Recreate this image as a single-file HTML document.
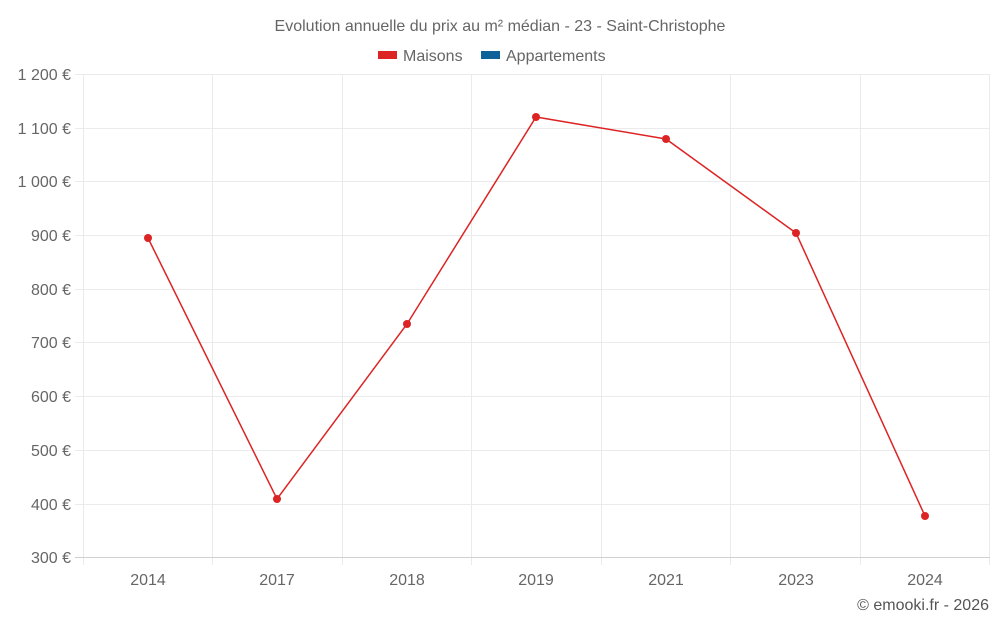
<!DOCTYPE html>
<html><head><meta charset="utf-8"><style>
body{margin:0;background:#fff;}
svg{display:block;font-family:"Liberation Sans",sans-serif;}
</style></head><body>
<svg width="1000" height="625" viewBox="0 0 1000 625">
<text x="500" y="31" text-anchor="middle" font-size="16" fill="#666">Evolution annuelle du prix au m² médian - 23 - Saint-Christophe</text>
<rect x="378" y="51" width="19" height="8" fill="#dc2424"/>
<text x="403" y="61" font-size="16" fill="#666">Maisons</text>
<rect x="481" y="51" width="19" height="8" fill="#0e6199"/>
<text x="506" y="61" font-size="16" fill="#666">Appartements</text>
<g stroke="#ebebeb" stroke-width="1">
<line x1="75" x2="990" y1="74.5" y2="74.5"/><line x1="75" x2="990" y1="128.5" y2="128.5"/>
<line x1="75" x2="990" y1="181.5" y2="181.5"/><line x1="75" x2="990" y1="235.5" y2="235.5"/>
<line x1="75" x2="990" y1="289.5" y2="289.5"/><line x1="75" x2="990" y1="342.5" y2="342.5"/>
<line x1="75" x2="990" y1="396.5" y2="396.5"/><line x1="75" x2="990" y1="450.5" y2="450.5"/>
<line x1="75" x2="990" y1="504.5" y2="504.5"/>
<line x1="83.5" x2="83.5" y1="74" y2="565"/><line x1="212.5" x2="212.5" y1="74" y2="565"/>
<line x1="342.5" x2="342.5" y1="74" y2="565"/><line x1="471.5" x2="471.5" y1="74" y2="565"/>
<line x1="601.5" x2="601.5" y1="74" y2="565"/><line x1="730.5" x2="730.5" y1="74" y2="565"/>
<line x1="860.5" x2="860.5" y1="74" y2="565"/><line x1="989.5" x2="989.5" y1="74" y2="565"/>
</g>
<line x1="75" x2="990" y1="557.5" y2="557.5" stroke="#d0d0d0"/>
<g font-size="16" fill="#666" text-anchor="end">
<text x="71" y="80">1 200 €</text><text x="71" y="134">1 100 €</text><text x="71" y="187">1 000 €</text>
<text x="71" y="241">900 €</text><text x="71" y="295">800 €</text><text x="71" y="348">700 €</text>
<text x="71" y="402">600 €</text><text x="71" y="456">500 €</text><text x="71" y="510">400 €</text>
<text x="71" y="563">300 €</text>
</g>
<g font-size="16" fill="#666" text-anchor="middle">
<text x="148" y="585">2014</text><text x="277" y="585">2017</text><text x="407" y="585">2018</text>
<text x="536" y="585">2019</text><text x="666" y="585">2021</text><text x="796" y="585">2023</text>
<text x="925" y="585">2024</text>
</g>
<polyline fill="none" stroke="#dc2424" stroke-width="1.5" points="148,238 277,499 407,324 536,117 666,139 796,233 925,516"/>
<g fill="#dc2424">
<circle cx="148" cy="238" r="4"/><circle cx="277" cy="499" r="4"/><circle cx="407" cy="324" r="4"/>
<circle cx="536" cy="117" r="4"/><circle cx="666" cy="139" r="4"/><circle cx="796" cy="233" r="4"/>
<circle cx="925" cy="516" r="4"/>
</g>
<text x="989" y="610" text-anchor="end" font-size="16" fill="#555">© emooki.fr - 2026</text>
</svg>
</body></html>
